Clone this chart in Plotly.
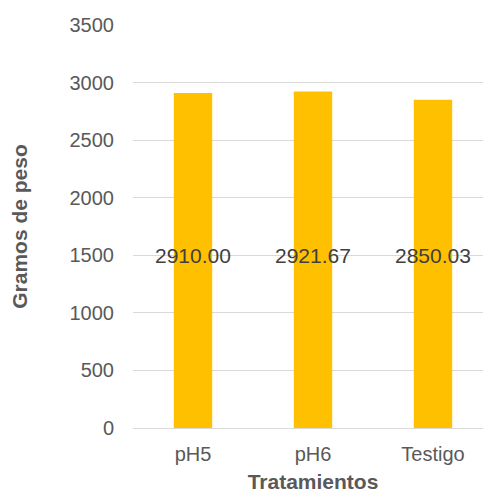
"""Peso por tratamiento - bar chart."""

import plotly.graph_objects as go

categories = ["pH5", "pH6", "Testigo"]
peso = [2910.00, 2921.67, 2850.03]
y_ticks = [0, 500, 1000, 1500, 2000, 2500, 3000, 3500]

GOLD = "#FFC000"
GREY = "#595959"
FONT = "Liberation Sans, Arial"

fig = go.Figure()
fig.add_trace(go.Bar(
    x=categories,
    y=peso,
    marker=dict(color=GOLD, line=dict(width=0)),
    width=0.32,
    hoverinfo="x+y",
))

# data labels sit on one line, around the middle of the bars
label_y = sum(peso) / len(peso) / 2
for cat, v in zip(categories, peso):
    fig.add_annotation(
        x=cat, y=label_y, text=f"{v:.2f}",
        showarrow=False, yshift=6,
        font=dict(family=FONT, size=21, color="#404040"),
    )

# page body adds an 8px offset, margins compensate for it
fig.update_layout(
    width=491,
    height=493,
    paper_bgcolor="white",
    plot_bgcolor="white",
    font=dict(family=FONT, size=20, color=GREY),
    margin=dict(l=125, r=6, t=15, b=73),
    showlegend=False,
    xaxis=dict(
        range=[-0.5, 2.5],
        showline=True,
        linecolor="#D9D9D9",
        linewidth=1,
        showgrid=False,
        ticks="",
        ticklabelstandoff=8,
        tickfont=dict(size=20, color=GREY),
        title=dict(text="<b>Tratamientos</b>", font=dict(size=21, color=GREY), standoff=10),
    ),
    yaxis=dict(
        range=[0, 3500],
        tickvals=y_ticks,
        showgrid=True,
        gridcolor="#D9D9D9",
        gridwidth=1,
        zeroline=False,
        ticks="",
        ticklabelstandoff=18,
        tickfont=dict(size=20, color=GREY),
        title=dict(text="<b>Gramos de peso</b>", font=dict(size=21, color=GREY), standoff=37),
    ),
)

fig.write_html("out.html")
